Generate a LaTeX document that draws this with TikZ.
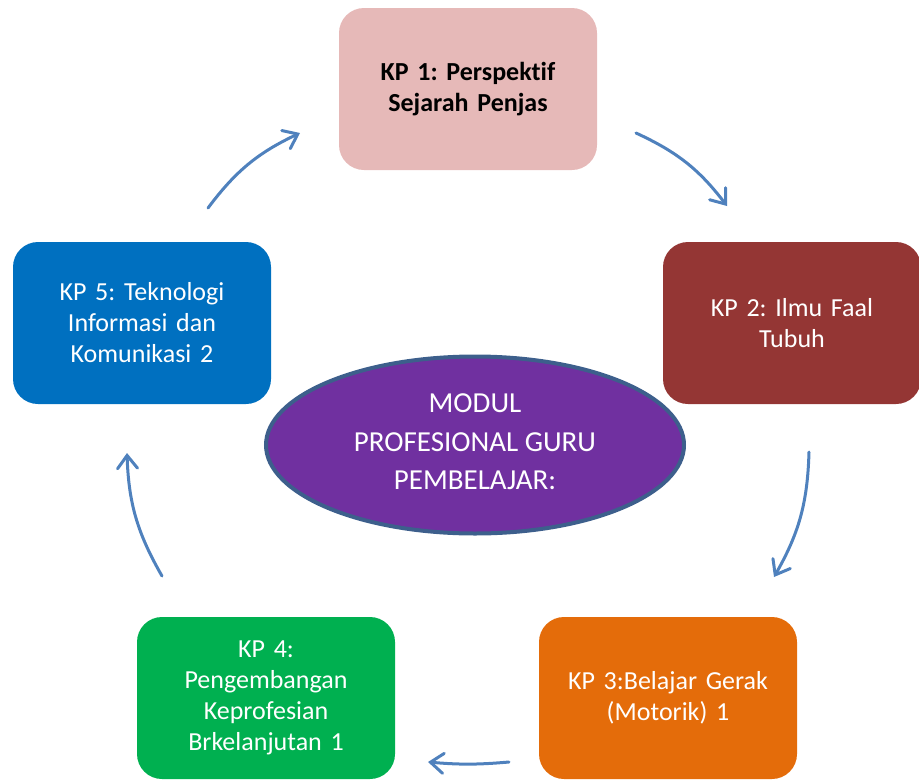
\documentclass[tikz,border=0pt]{standalone}
\usepackage{fontspec}
\setmainfont[Ligatures=NoCommon]{Carlito}
\usepackage{xcolor}
\usepackage{tikz}
\usetikzlibrary{shapes,arrows.meta,positioning,calc}
\frenchspacing

\definecolor{kpone}{HTML}{E6B9B8}
\definecolor{kptwo}{HTML}{943634}
\definecolor{kpthree}{HTML}{E46C0A}
\definecolor{kpfour}{HTML}{00B050}
\definecolor{kpfive}{HTML}{0070C0}
\definecolor{modfill}{HTML}{7030A0}
\definecolor{modline}{HTML}{3D5F8C}
\definecolor{arrowblue}{HTML}{4F81BD}

\begin{document}
\begin{tikzpicture}[x=1pt,y=-1pt,
  kpbox/.style={rounded corners=25pt,minimum width=258pt,minimum height=162pt,
    align=center,text width=240pt,inner sep=0pt,text=white,
    font=\fontsize{26}{31}\selectfont},
  cyc/.style={draw=arrowblue,line width=3pt,line cap=round,
    -{Straight Barb[length=13pt,width=20pt,line cap=round]}}]
\useasboundingbox (0,0) rectangle (919,780);

\node[kpbox,fill=kpone,text=black,font=\fontsize{26}{31}\selectfont\bfseries] (k1) at (468,89) {KP 1: Perspektif\\Sejarah Penjas};
\node[kpbox,fill=kptwo] (k2) at (792,323) {KP 2: Ilmu Faal\\Tubuh};
\node[kpbox,fill=kpthree] (k3) at (668,698) {KP 3:Belajar Gerak\\(Motorik) 1};
\node[kpbox,fill=kpfour] (k4) at (266,698) {KP 4:\\Pengembangan\\Keprofesian\\Brkelanjutan 1};
\node[kpbox,fill=kpfive] (k5) at (142,323) {KP 5: Teknologi\\Informasi dan\\Komunikasi 2};

\node[ellipse,fill=modfill,draw=modline,line width=4pt,minimum width=418pt,
  minimum height=177pt,inner sep=0pt,align=center,text=white,
  font=\fontsize{29}{38.5}\selectfont] (modul) at (475,445) {};
\node[align=center,text=white,font=\fontsize{29}{38.5}\selectfont]
  (modtext) at (475,442) {MODUL\\PROFESIONAL GURU\\PEMBELAJAR:};

% ends of the cycle arrows
\coordinate (a1s) at (208,208);
\coordinate (a1e) at (300,133);
\coordinate (a2s) at (636,133);
\coordinate (a2e) at (727,206);
\coordinate (a3s) at (809,452);
\coordinate (a3e) at (774,577);
\coordinate (a4s) at (509,762);
\coordinate (a4e) at (428,762);
\coordinate (a5s) at (162,576);
\coordinate (a5e) at (127,453);

\draw[cyc] (a1s) to[bend left=14] (a1e);
\draw[cyc] (a2s) to[bend left=14] (a2e);
\draw[cyc] (a3s) to[bend left=14] (a3e);
\draw[cyc] (a4s) to[bend left=5] (a4e);
\draw[cyc] (a5s) to[bend left=14] (a5e);
\end{tikzpicture}
\end{document}
